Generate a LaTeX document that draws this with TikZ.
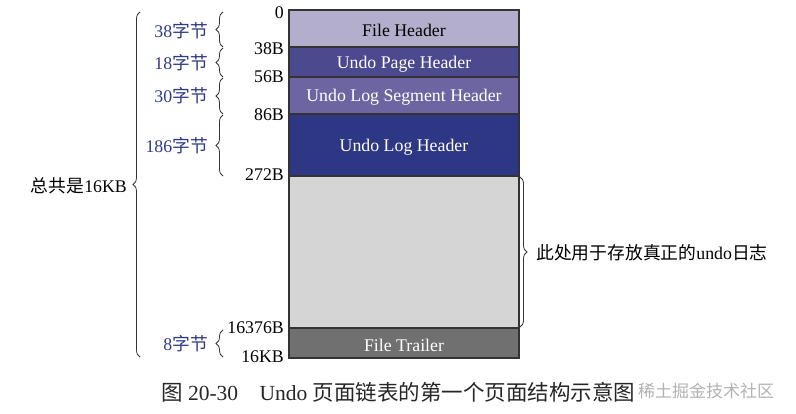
\documentclass[tikz,border=0pt]{standalone}
\usepackage{fontspec}
\setmainfont{Liberation Serif}
\newfontfamily\cjk{Noto Sans CJK SC}
\usetikzlibrary{decorations.pathreplacing}

\definecolor{fhcol}{HTML}{B3AECB}
\definecolor{phcol}{HTML}{4B4A8E}
\definecolor{lshcol}{HTML}{6D65A2}
\definecolor{lhcol}{HTML}{2E3783}
\definecolor{freecol}{HTML}{D5D5D5}
\definecolor{ftcol}{HTML}{707070}
\definecolor{sizeblue}{HTML}{2E3A87}
\definecolor{edge}{HTML}{333333}

\tikzset{
  seg/.style={draw=edge, line width=1.6pt, minimum width=230pt, inner sep=0pt},
  segtext/.style={inner sep=0pt, font=\fontsize{17.8}{20}\selectfont},
  off/.style={anchor=east, inner sep=0pt, font=\fontsize{17.8}{20}\selectfont},
  brc/.style={decorate, decoration={brace, amplitude=7pt}, line width=0.8pt, edge},
  sz/.style={anchor=east, inner sep=0pt, text=sizeblue, font=\fontsize{17.8}{20}\selectfont},
}

\begin{document}
\begin{tikzpicture}[x=1pt,y=-1pt]
\useasboundingbox (0,0) rectangle (796,413);

% page segments, top to bottom
\foreach \nm/\ya/\yb/\col/\tc/\txt in {
    fh/10/47/fhcol/black/File Header,
    ph/47/77/phcol/white/Undo Page Header,
    lsh/77/114/lshcol/white/Undo Log Segment Header,
    lh/114/176/lhcol/white/Undo Log Header,
    free/176/328/freecol/black/,
    ft/328/358/ftcol/white/File Trailer} {
  \node[seg, fill=\col, minimum height={(\yb-\ya)*1pt}]
    (\nm) at (404,{(\ya+\yb)/2}) {};
  \node[segtext, text=\tc] (\nm t) at ([yshift=-2pt]\nm.center) {\txt};
}

% byte offsets
\foreach \nm/\y/\lbl in {o0/13/0, o38/49/38B, o56/77/56B, o86/115/86B,
    o272/175/272B, o16376/328/16376B, o16k/357/16KB}
  \node[off] (\nm) at (284,\y) {\lbl};

% sizes of the parts
\foreach \ya/\yb/\ym/\lbl in {12/47/31/38, 48/77/63/18, 78/114/96/30,
    115/176/146/186, 330/357/344/8} {
  \draw[brc] (223,\yb) -- (223,\ya);
  \node[sz] (s\lbl) at (208,\ym) {\lbl{\cjk 字节}};
}

\draw[brc] (140,357) -- (140,12);
\node[off] (total) at (127,186) {{\cjk 总共是}16KB};

\draw[brc] (520,177) -- (520,327);
\node[off, anchor=west] (note) at (536,253)
  {{\cjk 此处用于存放真正的}undo{\cjk 日志}};

% caption
\node[anchor=west, inner sep=0pt, text=black!85, font=\fontsize{21.5}{24}\selectfont]
  (cap) at (161,392) {{\cjk 图} 20-30\quad Undo {\cjk 页面链表的第一个页面结构示意图}};
\node[anchor=west, inner sep=0pt, text=black!30, font=\fontsize{17}{20}\selectfont]
  (wm) at (638,391) {\cjk 稀土掘金技术社区};
\end{tikzpicture}
\end{document}
